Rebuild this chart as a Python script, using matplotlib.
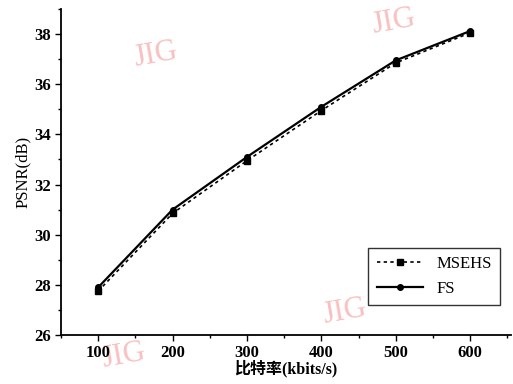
import matplotlib
matplotlib.use("Agg")
import matplotlib.pyplot as plt
from matplotlib.ticker import MultipleLocator

plt.rcParams['font.family'] = ['Liberation Serif', 'Noto Sans CJK SC']

bitrate = [100, 200, 300, 400, 500, 600]
psnr_msehs = [27.75, 30.85, 32.95, 34.95, 36.85, 38.05]
psnr_fs = [27.9, 31.0, 33.1, 35.1, 36.95, 38.12]

fig = plt.figure(figsize=(5.13, 3.84), dpi=100)
ax = fig.add_axes([61 / 513, 1 - 335 / 384, 450 / 513, 326 / 384])

ax.plot(bitrate, psnr_msehs, color='black', linestyle=(0, (2, 2)), linewidth=1.2,
        marker='s', markersize=4, label='MSEHS')
ax.plot(bitrate, psnr_fs, color='black', linestyle='-', linewidth=1.6,
        marker='o', markersize=4, label='FS')

ax.set_xlim(50, 655)
ax.set_ylim(26, 39)
ax.xaxis.set_major_locator(MultipleLocator(100))
ax.xaxis.set_minor_locator(MultipleLocator(50))
ax.yaxis.set_major_locator(MultipleLocator(2))
ax.yaxis.set_minor_locator(MultipleLocator(1))
ax.tick_params(which='major', direction='out', length=4, width=1, labelsize=12)
ax.tick_params(which='minor', direction='out', length=2, width=1)
for lab in ax.get_xticklabels() + ax.get_yticklabels():
    lab.set_fontweight('bold')

ax.spines['top'].set_visible(False)
ax.spines['right'].set_visible(False)
ax.spines['left'].set_linewidth(1.3)
ax.spines['bottom'].set_linewidth(1.3)

ax.set_xlabel('比特率(kbits/s)', fontsize=11.5, fontweight='bold', labelpad=-1)
ax.set_ylabel('PSNR(dB)', fontsize=12, labelpad=2)

leg = ax.legend(loc='lower right', bbox_to_anchor=(0.995, 0.065), fontsize=12,
                frameon=True, fancybox=False, edgecolor='black',
                handlelength=2.8, borderpad=0.5, labelspacing=0.55)
leg.get_frame().set_linewidth(1.0)

# watermarks
for (x, y) in [(0.21, 0.86), (0.74, 0.96), (0.14, -0.065), (0.63, 0.07)]:
    ax.text(x, y, 'JIG', transform=ax.transAxes, color='#f7b0b0', fontsize=22,
            rotation=10, ha='center', va='center', alpha=0.8, clip_on=False,
            zorder=0)

fig.savefig('out.png', dpi=100)
